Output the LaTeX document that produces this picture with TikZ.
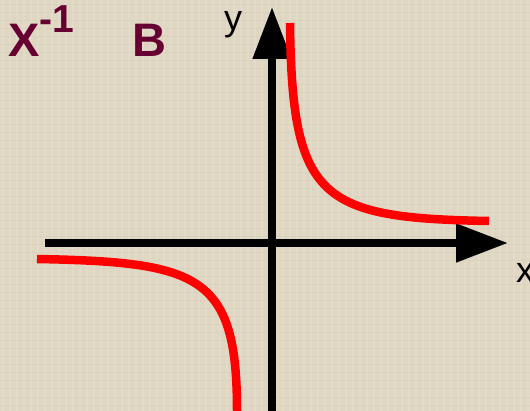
\documentclass[tikz,border=0pt]{standalone}
\usepackage{fontspec}
\setmainfont{Liberation Sans}
\usetikzlibrary{arrows.meta}
\definecolor{paper}{HTML}{E0D7C3}
\definecolor{maroon}{HTML}{660033}
\begin{document}
\begin{tikzpicture}[x=1pt, y=-1pt, line join=round,
    axis/.style={line width=8pt, -{Triangle[length=52pt,width=37pt]}},
    branch/.style={red, line width=8.5pt},
    title/.style={maroon, anchor=base west, inner sep=0pt, font=\fontsize{47}{47}\selectfont\bfseries},
    axlabel/.style={anchor=base west, inner sep=0pt, font=\fontsize{36}{36}\selectfont}]
	\fill[paper] (0,0) rectangle (530,411);
	\useasboundingbox (0,0) rectangle (530,411);
	% paper texture
	\foreach \i in {3,10,...,530}
		\draw[white, opacity=0.12, line width=1.2pt] (\i,0) -- (\i,411);
	\foreach \j in {5,13,...,411}
		\draw[black!60, opacity=0.05, line width=1pt] (0,\j) -- (530,\j);
	\path
	(45,243) coordinate (xs)
	(508,243) coordinate (xe)
	(272,411) coordinate (ys)
	(272,7) coordinate (ye)
	(290,23) coordinate (R1)
	(489,221) coordinate (R2)
	(37,259) coordinate (L1)
	(237,411) coordinate (L2)
;
	\draw[axis] (xs)--(xe);
	\draw[axis] (ys)--(ye);
	\draw[branch] (R1) .. controls (292,200) and (320,218) .. (R2);
	\draw[branch] (L1) .. controls (200,262) and (237,275) .. (L2);
	\node[title] (inv) at (8,57) {X\raisebox{24pt}{\fontsize{39}{39}\selectfont -1}};
	\node[title] (v) at (132,57) {B};
	\node[axlabel] (ylab) at (224,31) {y};
	\node[axlabel] (xlab) at (516,283) {x};
\end{tikzpicture}
\end{document}
